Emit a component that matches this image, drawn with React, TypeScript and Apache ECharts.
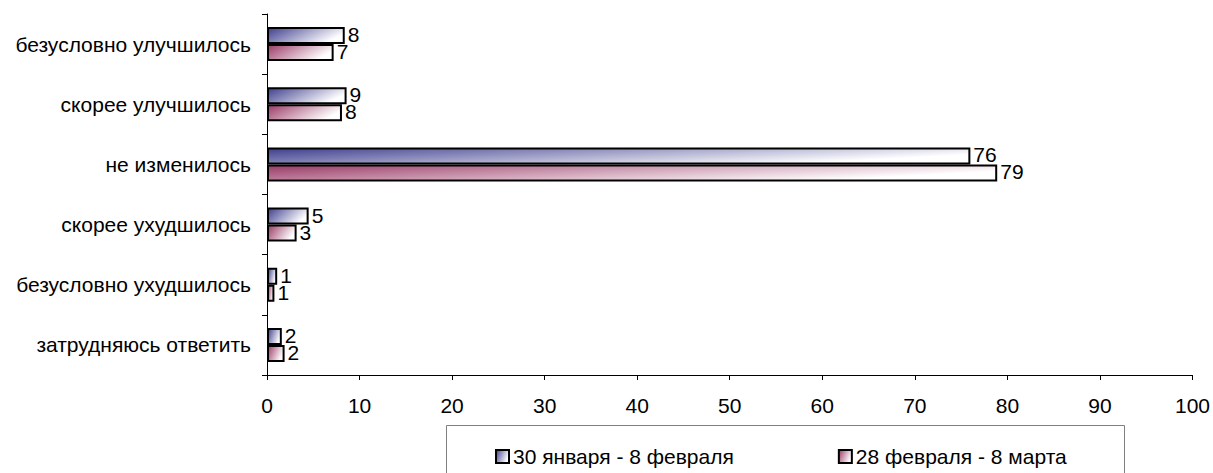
import React, { useEffect, useRef } from "react";
import * as echarts from "echarts";

const categories = [
  "безусловно улучшилось",
  "скорее улучшилось",
  "не изменилось",
  "скорее ухудшилось",
  "безусловно ухудшилось",
  "затрудняюсь ответить",
];
const seriesNames = ["30 января - 8 февраля", "28 февраля - 8 марта"];
const valuesJanFeb = [8.4, 8.6, 76.0, 4.5, 1.1, 1.6];
const valuesFebMar = [7.2, 8.1, 78.9, 3.2, 0.8, 1.9];
const labelsJanFeb = ["8", "9", "76", "5", "1", "2"];
const labelsFebMar = ["7", "8", "79", "3", "1", "2"];
const xTicks = { min: 0, max: 100, interval: 10 };

const FONT = "'Liberation Sans', Arial, sans-serif";
const FS = 21;

export default function App() {
  const ref = useRef<HTMLDivElement>(null);
  useEffect(() => {
    document.body.style.margin = "0";
    const chart = echarts.init(ref.current!, null, { renderer: "svg" });
    const grad = (c: string) =>
      new echarts.graphic.LinearGradient(0, 0, 1, 0.4, [
        { offset: 0, color: c },
        { offset: 1, color: "#ffffff" },
      ]);
    const mk = (name: string, data: number[], labels: string[], color: string) => ({
      name,
      type: "bar",
      data,
      barWidth: 17,
      barGap: "0%",
      itemStyle: { color: grad(color), borderColor: "#000", borderWidth: 2 },
      label: {
        show: true,
        position: "right",
        distance: 3,
        offset: [0, -1],
        formatter: (p: any) => labels[p.dataIndex],
        color: "#000",
        fontSize: FS,
        fontFamily: FONT,
      },
    });
    chart.setOption({
      animation: false,
      textStyle: { fontFamily: FONT },
      grid: { left: 267, right: 19, top: 14, bottom: 98, containLabel: false },
      xAxis: {
        type: "value",
        min: xTicks.min,
        max: xTicks.max,
        interval: xTicks.interval,
        splitLine: { show: false },
        axisLine: { show: true, lineStyle: { color: "#000", width: 1 } },
        axisTick: { show: true, length: 5, lineStyle: { color: "#000" } },
        axisLabel: { color: "#000", fontSize: FS, fontFamily: FONT, margin: 20 },
      },
      yAxis: {
        type: "category",
        data: categories,
        inverse: true,
        axisLine: { show: true, lineStyle: { color: "#000", width: 1 } },
        axisTick: { show: true, length: 5, lineStyle: { color: "#000" } },
        axisLabel: { color: "#000", fontSize: FS, fontFamily: FONT, margin: 16 },
      },
      legend: {
        left: 495,
        top: 446,
        padding: 0,
        icon: "rect",
        itemWidth: 13,
        itemHeight: 13,
        itemGap: 104,
        textStyle: { color: "#000", fontSize: FS, fontFamily: FONT, padding: [0, 0, 0, -1] },
        data: seriesNames,
      },
      graphic: [
        {
          type: "rect",
          left: 444,
          top: 423,
          shape: { width: 678, height: 70 },
          style: { fill: "none", stroke: "#808080", lineWidth: 1 },
          silent: true,
        },
      ],
      series: [
        mk(seriesNames[0], valuesJanFeb, labelsJanFeb, "#3f3f8f"),
        mk(seriesNames[1], valuesFebMar, labelsFebMar, "#9a3a66"),
      ],
    });
    return () => chart.dispose();
  }, []);
  return (
    <div
      ref={ref}
      style={{ position: "absolute", left: 0, top: 0, width: 1213, height: 473, background: "#fff" }}
    />
  );
}
